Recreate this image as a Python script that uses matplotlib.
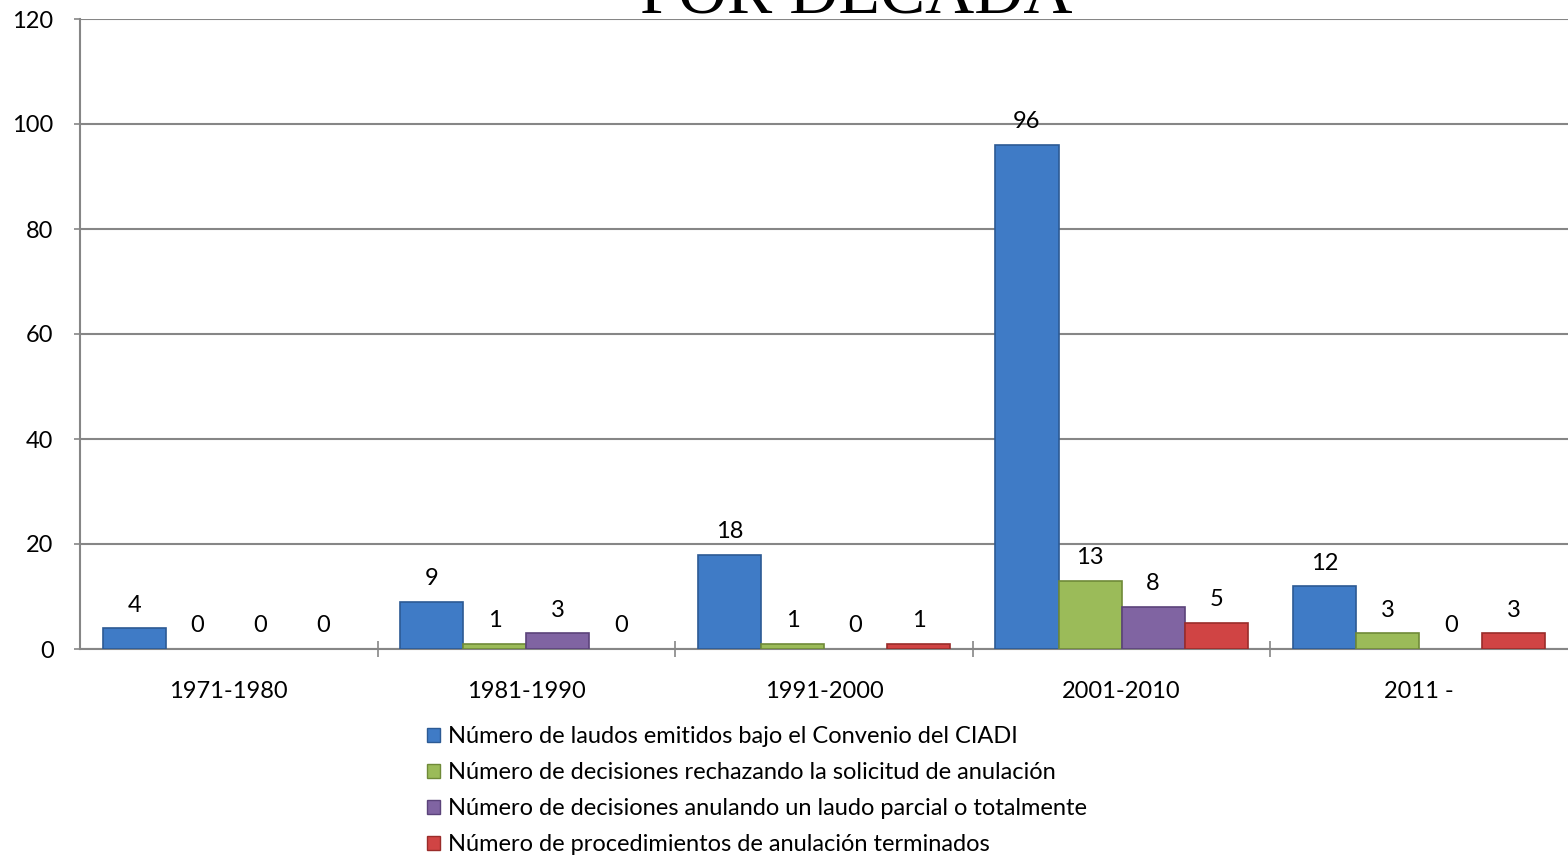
import matplotlib.pyplot as plt
import numpy as np
from matplotlib.patches import Patch

plt.rcParams['font.family'] = ['Lato', 'DejaVu Sans']

decades = ["1971-1980", "1981-1990", "1991-2000", "2001-2010", "2011 -"]
laudos = [4, 9, 18, 96, 12]
rechazando = [0, 1, 1, 13, 3]
anulando = [0, 3, 0, 8, 0]
terminados = [0, 0, 1, 5, 3]

series_names = [
    "Número de laudos emitidos bajo el Convenio del CIADI",
    "Número de decisiones rechazando la solicitud de anulación",
    "Número de decisiones anulando un laudo parcial o totalmente",
    "Número de procedimientos de anulación terminados",
]
colors = ["#3f7bc6", "#9bbb59", "#8064a2", "#d04444"]
edges = ["#2c5a94", "#6f8a38", "#5b437a", "#9a2c2a"]

fig = plt.figure(figsize=(15.68, 8.58), dpi=100)
ax = fig.add_axes([80 / 1568, 209 / 858, 1488 / 1568, 630 / 858])

x = np.arange(len(decades)) + 0.5
width = 0.212
all_series = [laudos, rechazando, anulando, terminados]
for i, vals in enumerate(all_series):
    offs = (i - 1.5) * width
    lw = [1.2 if v else 0 for v in vals]
    bars = ax.bar(x + offs, vals, width, color=colors[i], edgecolor=edges[i],
                  linewidth=lw, zorder=3)
    ax.bar_label(bars, labels=[str(v) for v in vals], padding=9,
                 fontsize=17, color="black")

ax.set_xlim(0, len(decades))
ax.set_ylim(0, 120)
ax.set_yticks(range(0, 121, 20))
ax.grid(axis="y", color="#868686", linewidth=1.5, zorder=0)
ax.set_axisbelow(True)

for s in ["top", "right"]:
    ax.spines[s].set_visible(False)
for s in ["left", "bottom"]:
    ax.spines[s].set_color("#868686")
    ax.spines[s].set_linewidth(1.5)

ax.set_xticks(np.arange(1, len(decades)))
ax.set_xticklabels([])
ax.set_xticks(x, minor=True)
ax.set_xticklabels(decades, minor=True)
ax.tick_params(axis="x", which="major", direction="inout", length=12,
               width=1.2, color="#868686")
ax.tick_params(axis="x", which="minor", length=0, pad=23, labelsize=17)
ax.tick_params(axis="y", length=4, width=1.2, color="#868686", pad=15,
               labelsize=17)

fig.text(856 / 1568, 1 - 13 / 858, "POR DÉCADA", family="Liberation Serif",
         fontsize=49, ha="center", va="baseline")

handles = [Patch(facecolor=colors[i], edgecolor=edges[i]) for i in range(4)]
fig.legend(handles, series_names, loc="upper left",
           bbox_to_anchor=(427 / 1568, 1 - 726 / 858), frameon=False,
           fontsize=17, handlelength=0.55, handleheight=0.55,
           handletextpad=0.35, labelspacing=0.64, borderaxespad=0,
           borderpad=0)

fig.savefig("out.png", dpi=100)
